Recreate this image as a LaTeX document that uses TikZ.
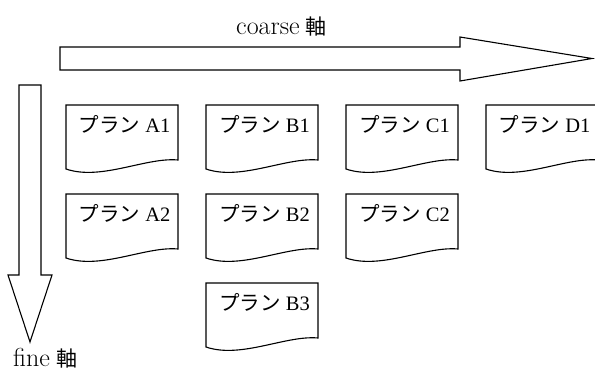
\documentclass[tikz,border=0pt]{standalone}
\usepackage{fontspec}
\setmainfont{Liberation Serif}
\newfontfamily\jp{Noto Sans CJK JP}
\newfontfamily\axisfont{Latin Modern Roman}
\begin{document}
\begin{tikzpicture}[x=1pt,y=-1pt,
  outline/.style={draw=black,line width=1.1pt,line join=miter,fill=white},
  doctext/.style={font=\fontsize{20.5}{24}\selectfont,inner sep=0pt,anchor=base},
  axislabel/.style={font=\axisfont\fontsize{26}{30}\selectfont,inner sep=0pt,anchor=base west},
  axischar/.style={font=\jp\fontsize{21}{24}\selectfont},
  plandoc/.pic={
    \draw[outline] (0,0) -- (112,0) -- (112,55)
      .. controls (80,52) and (35,76) .. (0,64) -- cycle;
    \node[doctext] (-label) at (58.5,27) {{\jp プラン} #1};
  }]
\useasboundingbox (0,0) rectangle (595,370);

% coarse axis: block arrow pointing right
\draw[outline] (60,47) -- (460,47) -- (460,37) -- (592,58.5) -- (460,81)
  -- (460,70) -- (60,70) -- cycle;
\node[axislabel] (coarse) at (236,34) {coarse\hspace{6pt}{\jp\fontsize{21}{24}\selectfont 軸}};

% fine axis: block arrow pointing down
\draw[outline] (19,85) -- (41,85) -- (41,275) -- (52,275) -- (30,342)
  -- (8,275) -- (19,275) -- cycle;
\node[axislabel] (fine) at (13,366) {fine\hspace{6pt}{\jp\fontsize{21}{24}\selectfont 軸}};

% plan documents, one column per coarse step
\pic (a1) at (66,105) {plandoc={A1}};
\pic (a2) at (66,194) {plandoc={A2}};
\pic (b1) at (206,105) {plandoc={B1}};
\pic (b2) at (206,194) {plandoc={B2}};
\pic (b3) at (206,283) {plandoc={B3}};
\pic (c1) at (346,105) {plandoc={C1}};
\pic (c2) at (346,194) {plandoc={C2}};
\pic (d1) at (486,105) {plandoc={D1}};
\end{tikzpicture}
\end{document}
